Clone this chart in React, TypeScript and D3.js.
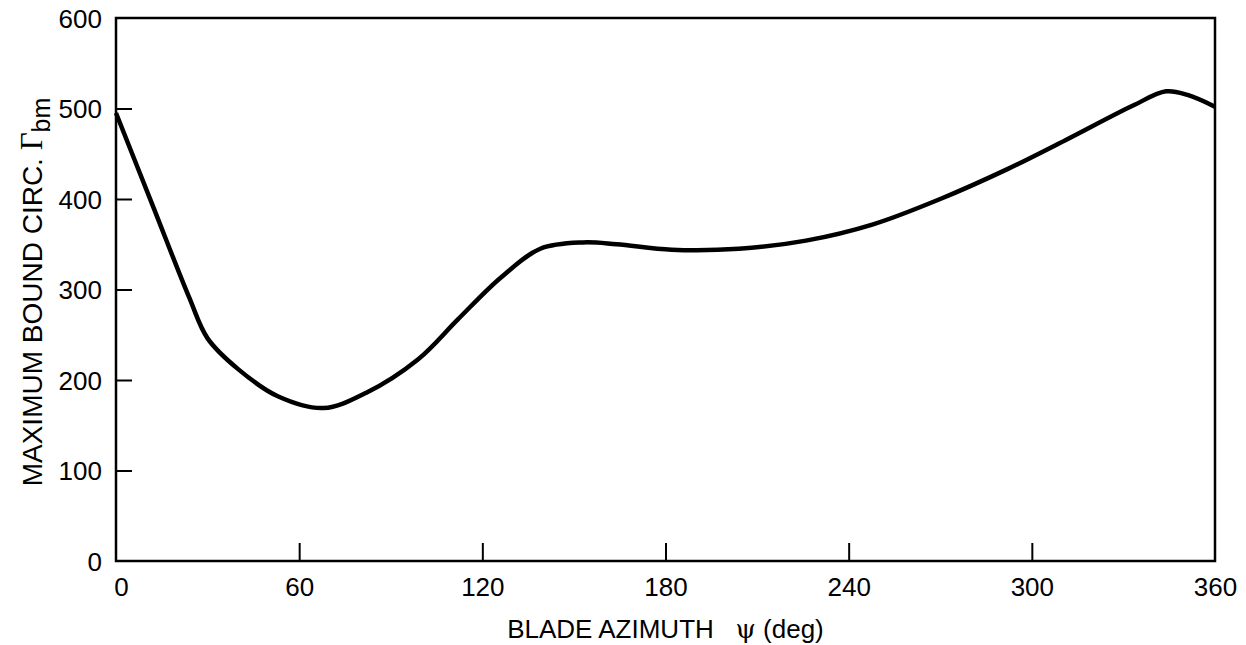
import { useEffect, useRef } from "react"
import * as d3 from "d3"

// values
const azimuthDeg = [0, 12, 24, 30, 40, 53, 68, 82, 99, 112, 126, 139, 153, 164, 182, 204, 226, 248, 270, 292, 311, 333, 344, 351, 360]
const boundCirc = [495, 393, 291, 246, 212, 182, 169, 186, 223, 267, 313, 345, 352, 350, 344, 345, 354, 372, 400, 433, 465, 503, 519, 515, 502]

const xTicks = [0, 60, 120, 180, 240, 300, 360]
const yTicks = [0, 100, 200, 300, 400, 500, 600]

const FONT = "'Liberation Sans', Arial, Helvetica, sans-serif"

export default function App() {
    const ref = useRef<SVGSVGElement | null>(null)

    useEffect(() => {
        const node = ref.current
        if (!node) return

        const width = 1246
        const height = 645
        const left = 116
        const right = 1215
        const top = 18
        const bottom = 561

        const svg = d3.select(node).attr("width", width).attr("height", height)
        svg.selectAll("*").remove()

        const x = d3.scaleLinear().domain([0, 360]).range([left, right])
        const y = d3.scaleLinear().domain([0, 600]).range([bottom, top])

        // frame
        svg.append("rect")
            .attr("x", left)
            .attr("y", top)
            .attr("width", right - left)
            .attr("height", bottom - top)
            .attr("fill", "none")
            .attr("stroke", "#000")
            .attr("stroke-width", 2.5)

        // x axis: ticks point inward (up)
        const xAxis = d3.axisBottom(x)
            .tickValues(xTicks)
            .tickSize(-18)
            .tickPadding(0)
            .tickFormat(d3.format("d"))
        const gx = svg.append("g")
            .attr("transform", `translate(0,${bottom})`)
            .call(xAxis)
        gx.select(".domain").remove()
        gx.selectAll(".tick line")
            .attr("stroke", "#000")
            .attr("stroke-width", 2)
            .filter((d: any) => d === 0 || d === 360)
            .remove()
        gx.selectAll(".tick text")
            .attr("y", 35)
            .attr("dy", 0)
            .attr("dx", (d: any) => (d === 0 ? 5 : 0))
            .attr("fill", "#000")
            .style("font-family", FONT)
            .style("font-size", "26px")

        // y axis: ticks point inward (right)
        const yAxis = d3.axisLeft(y)
            .tickValues(yTicks)
            .tickSize(-16)
            .tickPadding(0)
            .tickFormat(d3.format("d"))
        const gy = svg.append("g")
            .attr("transform", `translate(${left},0)`)
            .call(yAxis)
        gy.select(".domain").remove()
        gy.selectAll(".tick line")
            .attr("stroke", "#000")
            .attr("stroke-width", 2)
            .filter((d: any) => d === 0 || d === 600)
            .remove()
        gy.selectAll(".tick text")
            .attr("x", -14)
            .attr("dy", "0.36em")
            .attr("fill", "#000")
            .style("font-family", FONT)
            .style("font-size", "26px")

        // curve
        const line = d3.line<number>()
            .x((_, i) => x(azimuthDeg[i]))
            .y(d => y(d))
            .curve(d3.curveCatmullRom.alpha(0.5))

        svg.append("path")
            .datum(boundCirc)
            .attr("fill", "none")
            .attr("stroke", "#000")
            .attr("stroke-width", 4.5)
            .attr("stroke-linejoin", "round")
            .attr("d", line)

        // x label
        const xl = svg.append("text")
            .attr("x", (left + right) / 2)
            .attr("y", 638)
            .attr("text-anchor", "middle")
            .style("font-family", FONT)
            .style("font-size", "26px")
            .style("white-space", "pre")
        xl.append("tspan").text("BLADE AZIMUTH   ")
        xl.append("tspan").style("font-family", "'DejaVu Serif', serif").text("ψ")
        xl.append("tspan").text(" (deg)")

        // y label
        const yl = svg.append("text")
            .attr("transform", `translate(42,292) rotate(-90)`)
            .attr("text-anchor", "middle")
            .style("font-family", FONT)
            .style("font-size", "28px")
            .style("white-space", "pre")
        yl.append("tspan").text("MAXIMUM BOUND CIRC. ")
        yl.append("tspan").style("font-family", "'Liberation Serif', serif").style("font-size", "31px").text("Γ")
        yl.append("tspan").attr("dy", 8).style("font-size", "25px").text("bm")
    }, [])

    return (
        <svg
            ref={ref}
            style={{ position: "absolute", left: 0, top: 0, background: "#fff" }}
        />
    )
}
